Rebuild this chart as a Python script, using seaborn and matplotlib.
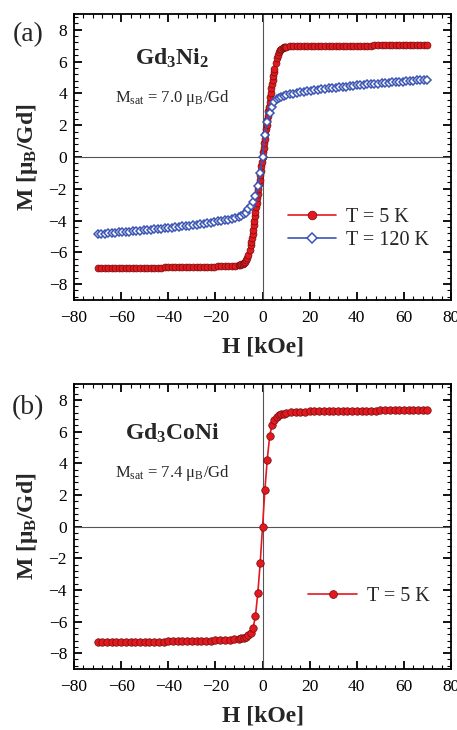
import matplotlib
matplotlib.use("Agg")
import matplotlib.pyplot as plt
from matplotlib.ticker import MultipleLocator
import pandas as pd
import seaborn as sns

# ---------------- data ----------------
# Gd3Ni2, T = 5 K
h_gd3ni2_5k = [-70, -68.5, -67, -65.5, -64, -62.5, -61, -59.5, -58, -56.5, -55, -53.5, -52, -50.5,
               -49, -47.5, -46, -44.5, -43, -41.5, -40, -38.5, -37, -35.5, -34, -32.5, -31, -29.5,
               -28, -26.5, -25, -23.5, -22, -20.5, -19, -17.5, -16, -14.5, -13, -11.5, -10,
               -9.5, -9, -8.5, -8, -7.5, -7, -6.5, -6, -5.5, -5, -4.75, -4.5, -4.25, -4, -3.75,
               -3.5, -3.25, -3, -2.75, -2.5, -2.25, -2, -1.75, -1.5, -1.25, -1, -0.75, -0.5, -0.25,
               0, 0.25, 0.5, 0.75, 1, 1.25, 1.5, 1.75, 2, 2.25, 2.5, 2.75, 3, 3.25, 3.5, 3.75, 4,
               4.25, 4.5, 4.75, 5, 5.5, 6, 6.5, 7, 7.5, 8, 8.5, 9, 9.5, 10,
               11.5, 13, 14.5, 16, 17.5, 19, 20.5, 22, 23.5, 25, 26.5, 28, 29.5, 31, 32.5, 34, 35.5,
               37, 38.5, 40, 41.5, 43, 44.5, 46, 47.5, 49, 50.5, 52, 53.5, 55, 56.5, 58, 59.5, 61,
               62.5, 64, 65.5, 67, 68.5, 70]
m_gd3ni2_5k = [-7.00, -7.00, -7.00, -6.99, -6.99, -6.99, -6.99, -6.98, -6.98, -6.98, -6.98, -6.97,
               -6.97, -6.97, -6.97, -6.96, -6.96, -6.96, -6.96, -6.95, -6.95, -6.95, -6.94, -6.94,
               -6.94, -6.93, -6.93, -6.93, -6.92, -6.92, -6.91, -6.91, -6.90, -6.90, -6.89, -6.88,
               -6.87, -6.86, -6.85, -6.83, -6.80,
               -6.78, -6.75, -6.71, -6.66, -6.59, -6.49, -6.35, -6.15, -5.88, -5.55, -5.33, -5.10,
               -4.85, -4.58, -4.31, -4.03, -3.74, -3.45, -3.16, -2.88, -2.59, -2.30, -2.01, -1.73,
               -1.44, -1.15, -0.86, -0.58, -0.29,
               0.00, 0.29, 0.58, 0.86, 1.15, 1.44, 1.73, 2.01, 2.30, 2.59, 2.88, 3.16, 3.45, 3.74,
               4.03, 4.31, 4.58, 4.85, 5.10, 5.33, 5.55, 5.92, 6.20, 6.42, 6.58, 6.70, 6.79, 6.85,
               6.89, 6.92, 6.94,
               6.95, 6.96, 6.97, 6.97, 6.98, 6.98, 6.98, 6.99, 6.99, 6.99, 6.99, 7.00, 7.00, 7.00,
               7.00, 7.00, 7.01, 7.01, 7.01, 7.01, 7.01, 7.01, 7.01, 7.01, 7.02, 7.02, 7.02, 7.02,
               7.02, 7.02, 7.02, 7.02, 7.02, 7.02, 7.03, 7.03, 7.03, 7.03, 7.03, 7.03]

# Gd3Ni2, T = 120 K
h_gd3ni2_120k = [-70, -68.5, -67, -65.5, -64, -62.5, -61, -59.5, -58, -56.5, -55, -53.5, -52, -50.5,
                 -49, -47.5, -46, -44.5, -43, -41.5, -40, -38.5, -37, -35.5, -34, -32.5, -31, -29.5,
                 -28, -26.5, -25, -23.5, -22, -20.5, -19, -17.5, -16, -14.5, -13, -11.5, -10,
                 -9, -8, -7, -6, -5, -4, -3, -2, -1, 0, 1, 2, 3, 4, 5, 6, 7, 8, 9,
                 10, 11.5, 13, 14.5, 16, 17.5, 19, 20.5, 22, 23.5, 25, 26.5, 28, 29.5, 31, 32.5, 34,
                 35.5, 37, 38.5, 40, 41.5, 43, 44.5, 46, 47.5, 49, 50.5, 52, 53.5, 55, 56.5, 58,
                 59.5, 61, 62.5, 64, 65.5, 67, 68.5, 70]
m_gd3ni2_120k = [-4.87, -4.85, -4.83, -4.81, -4.79, -4.77, -4.75, -4.73, -4.71, -4.69, -4.67, -4.65,
                 -4.63, -4.61, -4.59, -4.57, -4.55, -4.53, -4.51, -4.49, -4.46, -4.44, -4.42, -4.39,
                 -4.37, -4.34, -4.32, -4.29, -4.26, -4.23, -4.20, -4.17, -4.14, -4.10, -4.06, -4.02,
                 -3.98, -3.94, -3.90, -3.85, -3.79,
                 -3.72, -3.62, -3.50, -3.30, -3.10, -2.85, -2.45, -1.80, -1.00, 0.00,
                 1.35, 2.20, 2.75, 3.15, 3.45, 3.62, 3.70, 3.76, 3.81,
                 3.87, 3.93, 3.98, 4.02, 4.06, 4.10, 4.13, 4.16, 4.19, 4.22, 4.25, 4.28, 4.31, 4.33,
                 4.36, 4.38, 4.41, 4.43, 4.45, 4.48, 4.50, 4.52, 4.54, 4.56, 4.58, 4.60, 4.62, 4.64,
                 4.65, 4.67, 4.69, 4.71, 4.73, 4.74, 4.76, 4.78, 4.80, 4.82, 4.83, 4.85, 4.87]

# Gd3CoNi, T = 5 K
h_gd3coni_5k = [-70, -68, -66, -64, -62, -60, -58, -56, -54, -52, -50, -48, -46, -44, -42, -40, -38,
                -36, -34, -32, -30, -28, -26, -24, -22, -20, -18, -16, -14, -12, -10,
                -9, -8, -7, -6, -5, -4, -3, -2, -1, 0, 1, 2, 3, 4, 5, 6, 7, 8, 9,
                10, 12, 14, 16, 18, 20, 22, 24, 26, 28, 30, 32, 34, 36, 38, 40, 42, 44, 46, 48, 50,
                52, 54, 56, 58, 60, 62, 64, 66, 68, 70]
m_gd3coni_5k = [-7.32, -7.32, -7.31, -7.31, -7.31, -7.30, -7.30, -7.30, -7.29, -7.29, -7.29, -7.28,
                -7.28, -7.27, -7.27, -7.26, -7.26, -7.25, -7.25, -7.24, -7.23, -7.23, -7.22, -7.21,
                -7.20, -7.19, -7.18, -7.16, -7.14, -7.12, -7.09,
                -7.06, -7.02, -6.97, -6.88, -6.72, -6.40, -5.64, -4.18, -2.30, 0.00,
                2.34, 4.24, 5.70, 6.43, 6.74, 6.93, 7.04, 7.10, 7.15,
                7.18, 7.22, 7.24, 7.26, 7.27, 7.28, 7.29, 7.30, 7.30, 7.31, 7.31, 7.32, 7.32, 7.32,
                7.33, 7.33, 7.33, 7.34, 7.34, 7.34, 7.35, 7.35, 7.35, 7.35, 7.36, 7.36, 7.36, 7.36,
                7.37, 7.37, 7.37]

x_ticks = [-80, -60, -40, -20, 0, 20, 40, 60, 80]
y_ticks = [-8, -6, -4, -2, 0, 2, 4, 6, 8]

# ---------------- style ----------------
sns.set_style("ticks")
plt.rcParams.update({
    "font.family": ["Liberation Serif", "DejaVu Serif"],
    "mathtext.default": "regular",
    "axes.linewidth": 1.3,
    "axes.edgecolor": "black",
    "xtick.direction": "in",
    "ytick.direction": "in",
    "xtick.top": True,
    "ytick.right": True,
    "xtick.major.size": 5.5,
    "ytick.major.size": 5.5,
    "xtick.minor.size": 3,
    "ytick.minor.size": 3,
    "xtick.major.width": 1.3,
    "ytick.major.width": 1.3,
    "xtick.minor.width": 0.8,
    "ytick.minor.width": 0.8,
    "xtick.color": "black",
    "ytick.color": "black",
})

RED = "#e3191f"
RED_EDGE = "#6e0e0e"
BLUE = "#3b55b5"

fig = plt.figure(figsize=(4.57, 7.3), dpi=100)
ax_a = fig.add_axes([0.162, 0.589, 0.825, 0.392])
ax_b = fig.add_axes([0.162, 0.0836, 0.825, 0.390])


def style_axes(ax):
    ax.set_xlim(-80, 80)
    ax.set_ylim(-9, 9)
    ax.set_xticks(x_ticks)
    ax.set_yticks(y_ticks)
    ax.xaxis.set_minor_locator(MultipleLocator(4))
    ax.yaxis.set_minor_locator(MultipleLocator(0.4))
    ax.tick_params(axis="both", which="both", top=True, right=True, direction="in")
    ax.tick_params(axis="x", which="major", labelsize=12.5, pad=7)
    ax.tick_params(axis="y", which="major", labelsize=12.5, pad=5)
    ax.axhline(0, color="#555555", lw=0.8, zorder=1)
    ax.axvline(0, color="#555555", lw=0.8, zorder=1)
    ax.set_xlabel("H [kOe]", fontsize=17, fontweight="bold", labelpad=8)
    ax.set_ylabel("M [μ$_B$/Gd]", fontsize=17, fontweight="bold", labelpad=6)
    for s in ax.spines.values():
        s.set_visible(True)


# ---- panel (a) ----
df_a5 = pd.DataFrame({"H": h_gd3ni2_5k, "M": m_gd3ni2_5k})
df_a120 = pd.DataFrame({"H": h_gd3ni2_120k, "M": m_gd3ni2_120k})
sns.lineplot(data=df_a5, x="H", y="M", ax=ax_a, sort=False, estimator=None,
             color=RED, lw=1.2, marker="o", markersize=5.0, markerfacecolor=RED,
             markeredgecolor=RED_EDGE, markeredgewidth=0.5, label="T = 5 K", zorder=3)
sns.lineplot(data=df_a120, x="H", y="M", ax=ax_a, sort=False, estimator=None,
             color=BLUE, lw=1.2, marker="D", markersize=4.4, markerfacecolor="white",
             markeredgecolor=BLUE, markeredgewidth=1.1, label="T = 120 K", zorder=4)
style_axes(ax_a)
ax_a.legend(loc="center left", bbox_to_anchor=(0.54, 0.247), frameon=False, fontsize=14.5,
            handlelength=2.4, handletextpad=0.5, labelspacing=0.2, borderpad=0,
            markerscale=1.25)
ax_a.text(0.26, 0.845, "Gd$_3$Ni$_2$", transform=ax_a.transAxes, ha="center", va="center",
          fontsize=17, fontweight="bold")
ax_a.text(0.26, 0.705, "M$_{sat}$ = 7.0 μ$_B$/Gd", transform=ax_a.transAxes, ha="center",
          va="center", fontsize=12)

# ---- panel (b) ----
df_b5 = pd.DataFrame({"H": h_gd3coni_5k, "M": m_gd3coni_5k})
sns.lineplot(data=df_b5, x="H", y="M", ax=ax_b, sort=False, estimator=None,
             color=RED, lw=1.2, marker="o", markersize=5.4, markerfacecolor=RED,
             markeredgecolor=RED_EDGE, markeredgewidth=0.5, label="T = 5 K", zorder=3)
style_axes(ax_b)
ax_b.legend(loc="center left", bbox_to_anchor=(0.595, 0.253), frameon=False, fontsize=14.5,
            handlelength=2.4, handletextpad=0.5, borderpad=0, markerscale=1.05)
ax_b.text(0.26, 0.828, "Gd$_3$CoNi", transform=ax_b.transAxes, ha="center", va="center",
          fontsize=17, fontweight="bold")
ax_b.text(0.26, 0.69, "M$_{sat}$ = 7.4 μ$_B$/Gd", transform=ax_b.transAxes, ha="center",
          va="center", fontsize=12)

fig.text(0.062, 0.952, "(a)", ha="center", va="center", fontsize=20)
fig.text(0.062, 0.441, "(b)", ha="center", va="center", fontsize=20)

fig.savefig("out.png", dpi=100)
